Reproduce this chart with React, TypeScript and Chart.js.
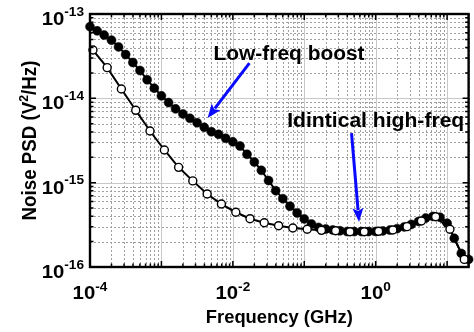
import React, { useEffect, useRef } from "react";
import { Chart, registerables } from "chart.js";

Chart.register(...registerables);

// ---------- data ----------
const FREQ_FILLED = [
  1.0e-4, 1.26e-4, 1.58e-4, 2.0e-4, 2.51e-4, 3.16e-4, 3.98e-4, 5.01e-4, 6.31e-4, 7.94e-4,
  1.0e-3, 1.26e-3, 1.58e-3, 2.0e-3, 2.51e-3, 3.16e-3, 3.98e-3, 5.01e-3, 6.31e-3, 7.94e-3,
  1.0e-2, 1.26e-2, 1.58e-2, 2.0e-2, 2.51e-2, 3.16e-2, 3.98e-2, 5.01e-2, 6.31e-2, 7.94e-2,
  0.1, 0.126, 0.158, 0.2, 0.251, 0.316, 0.398, 0.501, 0.631, 0.794,
  1.0, 1.26, 1.58, 2.0, 2.51, 3.16, 3.98, 5.01, 6.31, 7.94,
  10.0, 12.6, 15.8, 20.0,
];
const PSD_FILLED = [
  7.08e-14, 6.31e-14, 5.62e-14, 4.9e-14, 4.07e-14, 3.31e-14, 2.66e-14, 2.14e-14, 1.66e-14, 1.32e-14,
  1.07e-14, 8.91e-15, 7.5e-15, 6.53e-15, 5.79e-15, 5.14e-15, 4.53e-15, 4.02e-15, 3.74e-15, 3.36e-15,
  3.05e-15, 2.72e-15, 2.17e-15, 1.76e-15, 1.4e-15, 1.06e-15, 8.04e-16, 6.46e-16, 5.25e-16, 4.37e-16,
  3.72e-16, 3.24e-16, 2.95e-16, 2.82e-16, 2.75e-16, 2.69e-16, 2.63e-16, 2.63e-16, 2.63e-16, 2.63e-16,
  2.64e-16, 2.68e-16, 2.74e-16, 2.85e-16, 2.99e-16, 3.2e-16, 3.47e-16, 3.8e-16, 3.98e-16, 3.89e-16,
  3.31e-16, 2.19e-16, 1.45e-16, 1.23e-16,
];
const FREQ_OPEN = [
  1.1e-4, 1.74e-4, 2.75e-4, 4.37e-4, 6.92e-4,
  1.1e-3, 1.74e-3, 2.75e-3, 4.37e-3, 6.92e-3,
  1.1e-2, 1.74e-2, 2.75e-2, 4.37e-2, 6.92e-2,
  0.11, 0.174, 0.275, 0.437, 0.692,
  1.1, 1.74, 2.75, 4.37, 6.92,
  10.96, 17.4,
];
const PSD_OPEN = [
  3.74e-14, 2.31e-14, 1.29e-14, 7.21e-15, 4.1e-15,
  2.44e-15, 1.52e-15, 1.05e-15, 7.35e-16, 5.58e-16,
  4.46e-16, 3.74e-16, 3.35e-16, 3.09e-16, 2.9e-16,
  2.8e-16, 2.72e-16, 2.69e-16, 2.62e-16, 2.62e-16,
  2.65e-16, 2.75e-16, 3.01e-16, 3.51e-16, 3.95e-16,
  2.8e-16, 1.23e-16,
];
const X_LABEL_TICKS = [1e-4, 1e-2, 1e0];
const Y_LABEL_TICKS = [1e-16, 1e-15, 1e-14, 1e-13];
const X_MIN = 1e-4;
const X_MAX = 20;
const Y_MIN = 1e-16;
const Y_MAX = 1e-13;

const X_TITLE = "Frequency (GHz)";
const Y_TITLE_PARTS = ["Noise PSD (V", "2", "/Hz)"];
const ANN_1 = "Low-freq boost";
const ANN_2 = "Idintical high-freq";
// annotation anchors in data units [freq, psd]
const ANN_1_POS = [5.37e-3, 2.85e-14];
const ANN_2_POS = [5.78e-2, 4.53e-15];
const ARROW_1 = [[1.706e-2, 2.62e-14], [4.43e-3, 5.85e-15]];
const ARROW_2 = [[0.459, 3.88e-15], [0.585, 3.41e-16]];

const FONT = '"Liberation Sans", Arial, sans-serif';
const BLUE = "#0a0aff";

function font(size: number) {
  return `bold ${size}px ${FONT}`;
}

function stretchText(ctx: CanvasRenderingContext2D, s: string, x: number, y: number, size: number, sx: number) {
  ctx.font = font(size);
  ctx.save();
  ctx.translate(x, y);
  ctx.scale(sx, 1);
  ctx.textAlign = "left";
  ctx.textBaseline = "alphabetic";
  ctx.fillText(s, 0, 0);
  ctx.restore();
}

function fitText(ctx: CanvasRenderingContext2D, s: string, x: number, y: number, size: number, width: number) {
  ctx.font = font(size);
  const w = ctx.measureText(s).width;
  stretchText(ctx, s, x, y, size, width / w);
}

function widthOf(ctx: CanvasRenderingContext2D, s: string, size: number) {
  ctx.font = font(size);
  return ctx.measureText(s).width;
}

function drawArrow(ctx: CanvasRenderingContext2D, x1: number, y1: number, x2: number, y2: number) {
  const ang = Math.atan2(y2 - y1, x2 - x1);
  const headLen = 14;
  const headW = 5.5;
  const bx = x2 - Math.cos(ang) * headLen;
  const by = y2 - Math.sin(ang) * headLen;
  ctx.save();
  ctx.strokeStyle = BLUE;
  ctx.fillStyle = BLUE;
  ctx.lineWidth = 3;
  ctx.setLineDash([]);
  ctx.beginPath();
  ctx.moveTo(x1, y1);
  ctx.lineTo(bx + Math.cos(ang) * 2, by + Math.sin(ang) * 2);
  ctx.stroke();
  ctx.beginPath();
  ctx.moveTo(x2, y2);
  ctx.lineTo(bx + Math.cos(ang + Math.PI / 2) * headW, by + Math.sin(ang + Math.PI / 2) * headW);
  ctx.lineTo(bx + Math.cos(ang) * 3, by + Math.sin(ang) * 3);
  ctx.lineTo(bx + Math.cos(ang - Math.PI / 2) * headW, by + Math.sin(ang - Math.PI / 2) * headW);
  ctx.closePath();
  ctx.fill();
  ctx.restore();
}

function gridValues(min: number, max: number) {
  const out: { v: number; major: boolean }[] = [];
  const d0 = Math.floor(Math.log10(min));
  const d1 = Math.ceil(Math.log10(max));
  for (let d = d0; d <= d1; d++) {
    for (let m = 1; m <= 9; m++) {
      const v = m * Math.pow(10, d);
      if (v >= min * 0.999 && v <= max * 1.001) out.push({ v, major: m === 1 });
    }
  }
  return out;
}

const decor = {
  id: "decor",
  beforeDatasetsDraw(chart: any) {
    const { ctx, chartArea, scales } = chart;
    const { left, right, top, bottom } = chartArea;
    const xs = scales.x;
    const ys = scales.y;
    ctx.save();
    ctx.lineWidth = 1;
    const xg = gridValues(X_MIN, X_MAX);
    const yg = gridValues(Y_MIN, Y_MAX);
    // minor dotted
    ctx.strokeStyle = "#a0a0a0";
    ctx.setLineDash([2, 2]);
    ctx.beginPath();
    xg.filter((g) => !g.major).forEach((g) => {
      const p = Math.round(xs.getPixelForValue(g.v)) + 0.5;
      ctx.moveTo(p, top);
      ctx.lineTo(p, bottom);
    });
    yg.filter((g) => !g.major).forEach((g) => {
      const p = Math.round(ys.getPixelForValue(g.v)) + 0.5;
      ctx.moveTo(left, p);
      ctx.lineTo(right, p);
    });
    ctx.stroke();
    // major solid
    ctx.strokeStyle = "#c8c8c8";
    ctx.setLineDash([]);
    ctx.beginPath();
    xg.filter((g) => g.major).forEach((g) => {
      const p = Math.round(xs.getPixelForValue(g.v)) + 0.5;
      ctx.moveTo(p, top);
      ctx.lineTo(p, bottom);
    });
    yg.filter((g) => g.major).forEach((g) => {
      const p = Math.round(ys.getPixelForValue(g.v)) + 0.5;
      ctx.moveTo(left, p);
      ctx.lineTo(right, p);
    });
    ctx.stroke();
    ctx.restore();
  },
  afterDatasetsDraw(chart: any) {
    const { ctx, chartArea, scales } = chart;
    const { left, right, top, bottom } = chartArea;
    const xs = scales.x;
    const ys = scales.y;
    ctx.save();
    ctx.setLineDash([]);
    // ticks (inward, all four sides)
    ctx.strokeStyle = "#000";
    ctx.lineWidth = 1.5;
    ctx.beginPath();
    gridValues(X_MIN, X_MAX).forEach((g) => {
      const p = xs.getPixelForValue(g.v);
      const L = g.major ? 6 : 3.5;
      ctx.moveTo(p, bottom);
      ctx.lineTo(p, bottom - L);
      ctx.moveTo(p, top);
      ctx.lineTo(p, top + L);
    });
    gridValues(Y_MIN, Y_MAX).forEach((g) => {
      const p = ys.getPixelForValue(g.v);
      const L = g.major ? 6 : 3.5;
      ctx.moveTo(left, p);
      ctx.lineTo(left + L, p);
      ctx.moveTo(right, p);
      ctx.lineTo(right - L, p);
    });
    ctx.stroke();
    // frame
    ctx.lineWidth = 2.4;
    ctx.strokeRect(left, top, right - left, bottom - top);

    ctx.fillStyle = "#000";
    // tick labels
    const S10 = 18.5;
    const SEXP = 13;
    const SX10 = 1.1;
    const SXEXP = 1.05;
    const w10 = widthOf(ctx, "10", S10) * SX10;
    Y_LABEL_TICKS.forEach((v) => {
      const p = ys.getPixelForValue(v);
      const e = String(Math.round(Math.log10(v)));
      const we = widthOf(ctx, e, SEXP) * SXEXP;
      const xr = left - 6;
      stretchText(ctx, "10", xr - we - w10, p + 11, S10, SX10);
      stretchText(ctx, e, xr - we, p + 1.5, SEXP, SXEXP);
    });
    X_LABEL_TICKS.forEach((v) => {
      const p = xs.getPixelForValue(v);
      const e = String(Math.round(Math.log10(v)));
      const we = widthOf(ctx, e, SEXP) * SXEXP;
      const x0 = p - (w10 + we) / 2;
      stretchText(ctx, "10", x0, bottom + 31.5, S10, SX10);
      stretchText(ctx, e, x0 + w10, bottom + 23.5, SEXP, SXEXP);
    });

    // x title
    const cx = (left + right) / 2;
    fitText(ctx, X_TITLE, cx - 73.5, bottom + 56, 19, 147);

    // y title (rotated, rich text with superscript)
    const cy = (top + bottom) / 2;
    const segs = [
      { t: Y_TITLE_PARTS[0], s: 20, dy: 0 },
      { t: Y_TITLE_PARTS[1], s: 13, dy: -8 },
      { t: Y_TITLE_PARTS[2], s: 20, dy: 0 },
    ];
    const natural = segs.reduce((a, g) => a + widthOf(ctx, g.t, g.s), 0);
    const targetLen = 160;
    ctx.save();
    ctx.translate(36, cy);
    ctx.rotate(-Math.PI / 2);
    ctx.scale(targetLen / natural, 1);
    let xx = -natural / 2;
    segs.forEach((g) => {
      ctx.font = font(g.s);
      ctx.textAlign = "left";
      ctx.textBaseline = "alphabetic";
      ctx.fillText(g.t, xx, g.dy);
      xx += ctx.measureText(g.t).width;
    });
    ctx.restore();

    // annotations
    fitText(ctx, ANN_1, xs.getPixelForValue(ANN_1_POS[0]), ys.getPixelForValue(ANN_1_POS[1]), 19.5, 151);
    fitText(ctx, ANN_2, xs.getPixelForValue(ANN_2_POS[0]), ys.getPixelForValue(ANN_2_POS[1]), 20, 177);
    [ARROW_1, ARROW_2].forEach((a) => {
      drawArrow(
        ctx,
        xs.getPixelForValue(a[0][0]),
        ys.getPixelForValue(a[0][1]),
        xs.getPixelForValue(a[1][0]),
        ys.getPixelForValue(a[1][1])
      );
    });
    ctx.restore();
  },
};

export default function App() {
  const ref = useRef<HTMLCanvasElement | null>(null);
  useEffect(() => {
    if (!ref.current) return;
    const chart = new Chart(ref.current, {
      type: "line",
      data: {
        datasets: [
          {
            label: "open",
            data: FREQ_OPEN.map((f, i) => ({ x: f, y: PSD_OPEN[i] })),
            borderColor: "#000",
            borderWidth: 2,
            pointRadius: 4,
            pointBackgroundColor: "#fff",
            pointBorderColor: "#000",
            pointBorderWidth: 1.4,
            tension: 0,
            clip: false as any,
          },
          {
            label: "filled",
            data: FREQ_FILLED.map((f, i) => ({ x: f, y: PSD_FILLED[i] })),
            borderColor: "#000",
            borderWidth: 2,
            pointRadius: 4.5,
            pointBackgroundColor: "#000",
            pointBorderColor: "#000",
            pointBorderWidth: 0.5,
            tension: 0,
            clip: false as any,
          },
        ],
      },
      options: {
        responsive: false,
        animation: false,
        devicePixelRatio: 1,
        events: [],
        layout: { padding: { left: 90, right: 4, top: 14, bottom: 65 } },
        plugins: { legend: { display: false }, tooltip: { enabled: false } },
        scales: {
          x: { type: "logarithmic", min: X_MIN, max: X_MAX, display: false },
          y: { type: "logarithmic", min: Y_MIN, max: Y_MAX, display: false },
        },
      },
      plugins: [decor],
    });
    return () => chart.destroy();
  }, []);
  return (
    <div style={{ position: "fixed", left: 0, top: 0, width: 474, height: 332, background: "#fff" }}>
      <canvas ref={ref} width={474} height={332} style={{ display: "block" }} />
    </div>
  );
}
